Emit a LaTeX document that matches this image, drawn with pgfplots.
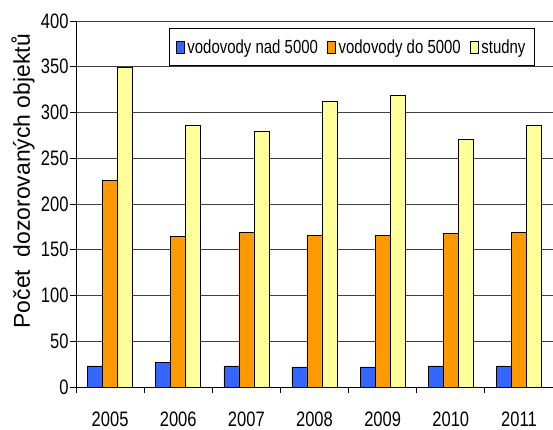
\documentclass[border=0pt]{standalone}
\usepackage{fontspec}
\setmainfont{Liberation Sans}
\newfontfamily\tickfont{Liberation Sans}[FakeStretch=0.79]
\newfontfamily\legfont{Liberation Sans}[FakeStretch=0.79]
\usepackage{pgfplots}
\pgfplotsset{compat=1.18}
\definecolor{cblue}{HTML}{3366FF}
\definecolor{corange}{HTML}{FF9900}
\definecolor{cyellow}{HTML}{FFFF99}
\begin{document}
\begin{tikzpicture}
\useasboundingbox (-76bp,-43bp) rectangle (477bp,387bp);
\begin{axis}[
  scale only axis,
  width=477bp, height=366bp,
  xmin=-0.5, xmax=6.5,
  ymin=0, ymax=400,
  ytick={0,50,...,400},
  ymajorgrids,
  grid style={black!75, line width=0.7bp},
  axis lines*=left,
  axis line style={black, line width=0.8bp},
  tick align=outside,
  major tick length=6bp,
  tick style={black, line width=0.8bp},
  xtick={-0.5,0.5,...,6.5},
  xticklabels={},
  extra x ticks={0,1,2,3,4,5,6},
  extra x tick labels={2005,2006,2007,2008,2009,2010,2011},
  extra x tick style={major tick length=0pt, grid=none,
     xticklabel style={yshift=-25bp, inner ysep=0bp}},
  /pgf/number format/assume math mode=true,
  ticklabel style={font=\tickfont\fontsize{21}{22}\selectfont},
  yticklabel style={xshift=2bp},
  ylabel={Počet\ \ dozorovaných objektů},
  ylabel style={font=\fontsize{23}{24}\selectfont, at={(axis description cs:-0.111,0.562)}, anchor=center},
  ybar=0pt,
  bar width=15bp,
  legend columns=3,
  legend cell align=left,
  legend style={at={(axis description cs:0.962,0.981)}, anchor=north east,
     font=\legfont\fontsize{19}{20}\selectfont, draw=black, line width=0.8bp,
     inner xsep=6bp, inner ysep=11bp, fill=white,
     nodes={inner xsep=3bp, inner ysep=0bp}, column sep=0bp,
     /tikz/every even column/.append style={column sep=6bp}},
  legend image code/.code={\draw[#1, draw=black, line width=0.6bp] (0bp,-6bp) rectangle (8bp,6bp);},
]
\addplot[fill=cblue, draw=black, line width=0.6bp] coordinates {(0,23) (1,27) (2,23) (3,22) (4,22) (5,23) (6,23)};
\addplot[fill=corange, draw=black, line width=0.6bp] coordinates {(0,226) (1,165) (2,169) (3,166) (4,166) (5,168) (6,169)};
\addplot[fill=cyellow, draw=black, line width=0.6bp] coordinates {(0,349) (1,286) (2,279) (3,312) (4,319) (5,271) (6,286)};
\legend{vodovody nad 5000, vodovody do 5000, studny}
\end{axis}
\end{tikzpicture}
\end{document}
